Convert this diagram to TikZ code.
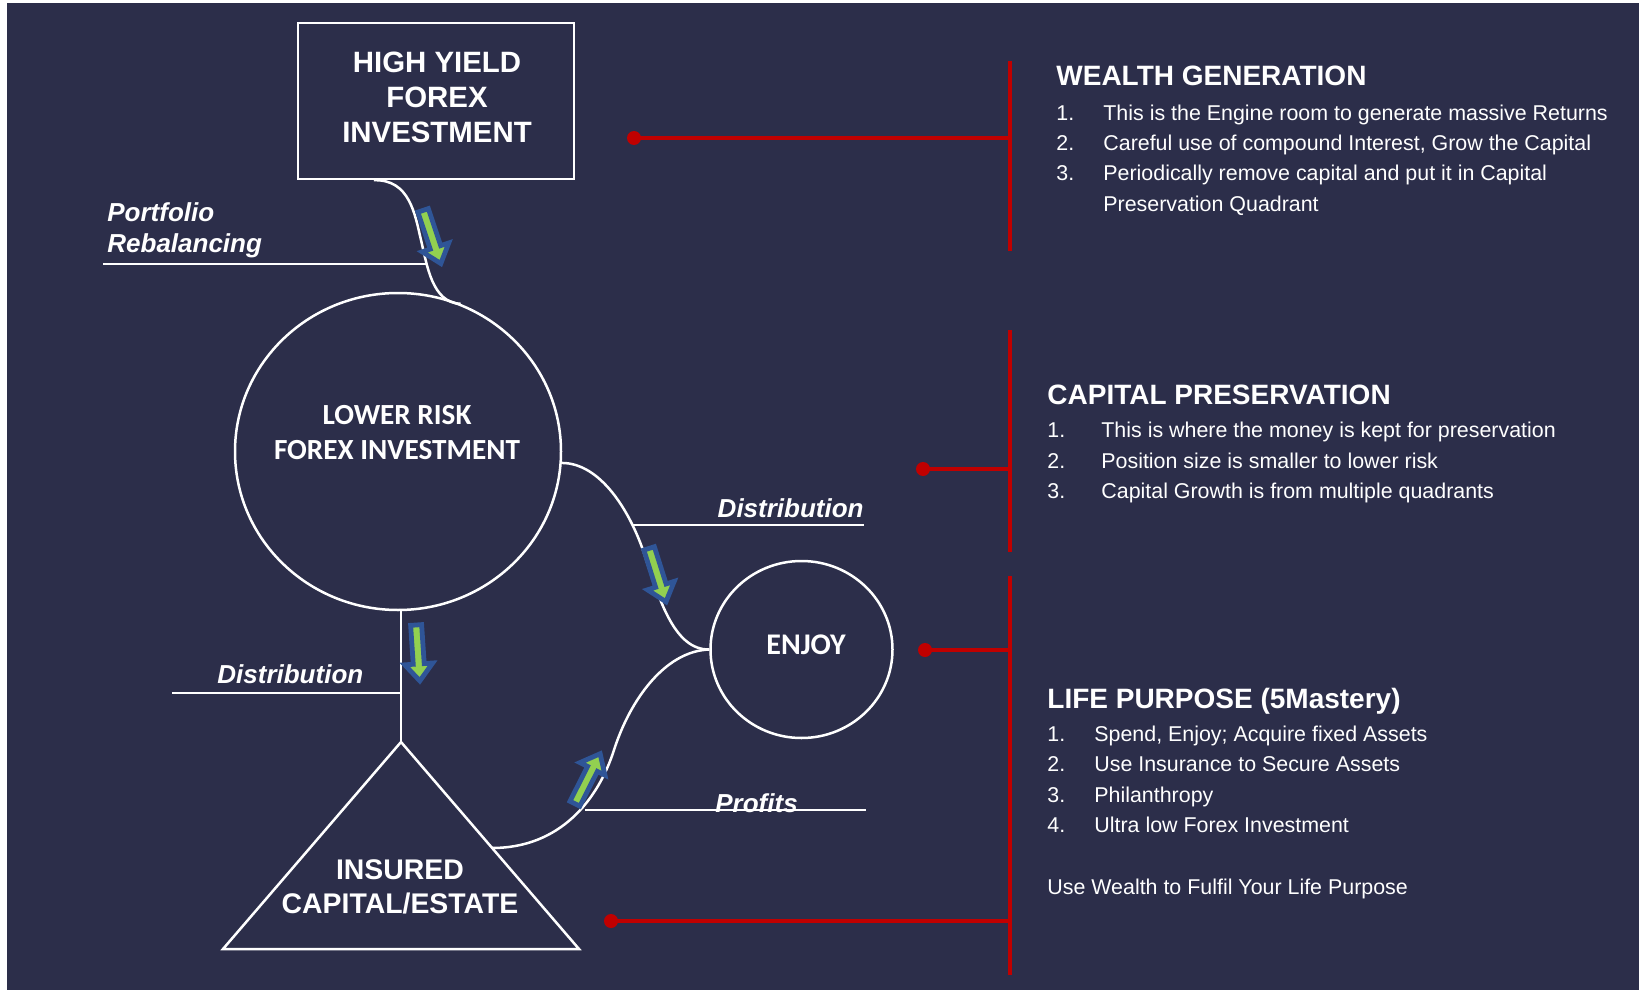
\documentclass[tikz,border=0pt]{standalone}
\usepackage{fontspec}
\setmainfont{Liberation Sans}
\newfontfamily\calfont{Carlito}
\usetikzlibrary{shapes.geometric,calc}
\definecolor{bgnavy}{RGB}{44,46,74}
\definecolor{redline}{RGB}{192,0,0}
\definecolor{arrblue}{RGB}{47,85,151}
\definecolor{arrgreen}{RGB}{146,208,80}
\begin{document}
\begin{tikzpicture}[x=0.5pt,y=-0.5pt,
  wline/.style={white,line width=1.25pt},
  rline/.style={redline,line width=1.75pt},
  headtxt/.style={white,font=\bfseries\fontsize{14}{17}\selectfont,anchor=base west,inner sep=0},
  itemtxt/.style={white,font=\fontsize{10.7}{12}\selectfont,anchor=base west,inner sep=0},
  labtxt/.style={white,font=\bfseries\itshape\fontsize{13}{15.5}\selectfont,inner sep=0},
  barrow/.pic={\draw[arrblue,fill=arrgreen,line width=2.4pt,line join=miter]
     (2,-5.5) -- (41,-5.5) -- (41,-14) -- (58,0) -- (41,14) -- (41,5.5) -- (2,5.5) -- cycle;}
]
% page and background
\fill[white] (0,0) rectangle (1639,990);
\fill[bgnavy] (7,3) rectangle (1639,990);
\useasboundingbox (0,0) rectangle (1639,990);

% ---------- main shapes ----------
\node[draw=white,line width=1.25pt,minimum width=138pt,minimum height=78pt,inner sep=0]
      (hy) at (436,101) {};
\node[text=white,align=center,inner sep=0,font=\bfseries\fontsize{14.7}{17.5}\selectfont]
      (hytext) at (437,97) {HIGH YIELD\\FOREX\\INVESTMENT};

\node[draw=white,line width=1.25pt,ellipse,minimum width=163pt,minimum height=158.5pt,inner sep=0]
      (lr) at (398,451.5) {};
\node[text=white,align=center,inner sep=0,font=\calfont\bfseries\fontsize{14.6}{17.5}\selectfont]
      (lrtext) at (397,433) {LOWER RISK\\FOREX INVESTMENT};

\node[draw=white,line width=1.25pt,ellipse,minimum width=91pt,minimum height=88.5pt,inner sep=0]
      (en) at (801.5,649.5) {};
\node[text=white,inner sep=0,font=\calfont\bfseries\fontsize{15}{17}\selectfont]
      (entext) at (806,645) {ENJOY};

\coordinate (tapex) at (401,742);
\coordinate (tbl) at (223,949);
\coordinate (tbr) at (579,949);
\draw[wline,line join=miter] (tapex) -- (tbl) -- (tbr) -- cycle;
\node[text=white,align=center,inner sep=0,font=\bfseries\fontsize{14.2}{16.8}\selectfont]
      (trtext) at (400,887) {INSURED\\CAPITAL/ESTATE};

% ---------- white connectors ----------
\coordinate (hyout) at ([xshift=38.5pt]hy.south west);
\draw[wline] (hyout) .. controls (410,179) and (415,215) .. (421,240)
                     .. controls (427,265) and (432,303) .. (lr.67);
\draw[wline] (lr.-4) .. controls (600,463) and (630,510) .. (645,556)
                     .. controls (660,602) and (675,650) .. (en.west);
\coordinate (trin) at ($(tapex)!0.512!(tbr)$);
\draw[wline] (en.west) .. controls (665,651) and (630,700) .. (614,750)
                       .. controls (598,800) and (560,848) .. (trin);
\draw[wline] (tapex |- lr.south) -- (tapex);

% label lines
\coordinate (pl) at (103,264);
\coordinate (pr) at (427,264);
\draw[wline] (pl) -- (pr);
\coordinate (dl) at (172,693);
\draw[wline] (dl) -- (dl -| tapex);
\coordinate (drl) at (633,525);
\coordinate (drr) at (864,525);
\draw[wline] (drl) -- (drr);
\coordinate (prl) at (585,810);
\coordinate (prr) at (866,810);
\draw[wline] (prl) -- (prr);

% labels
\node[labtxt,anchor=base west] (lport) at (107,221) {Portfolio};
\node[labtxt,anchor=base west] (lrebal) at (107,252) {Rebalancing};
\node[labtxt,anchor=base west] (ldist1) at (217,683) {Distribution};
\node[labtxt,anchor=base east] (ldist2) at (864,517) {Distribution};
\node[labtxt,anchor=base west] (lprof) at (715,812) {Profits};

% block arrows
\pic[rotate=-71.57] at (422.5,208.5) {barrow};
\pic[rotate=-72.45] at (648.5,546.5) {barrow};
\pic[rotate=-86.2] at (416,623) {barrow};
\pic[rotate=63.2] at (574,805.5) {barrow};

% ---------- red connectors ----------
\coordinate (v1t) at (1010,61);   \coordinate (v1b) at (1010,251);
\coordinate (v2t) at (1010,330);  \coordinate (v2b) at (1010,552);
\coordinate (v3t) at (1010,576);  \coordinate (v3b) at (1010,975);
\draw[rline] (v1t) -- (v1b);
\draw[rline] (v2t) -- (v2b);
\draw[rline] (v3t) -- (v3b);
\coordinate (d1) at (634,138);
\coordinate (d2) at (923,469);
\coordinate (d3) at (925,650);
\coordinate (d4) at (611,921);
\draw[rline] (d1) -- (d1 -| v1t);
\draw[rline] (d2) -- (d2 -| v2t);
\draw[rline] (d3) -- (d3 -| v3t);
\draw[rline] (d4) -- (d4 -| v3t);
\foreach \d in {d1,d2,d3,d4} \fill[redline] (\d) circle[radius=7];

% ---------- right texts ----------
\node[headtxt] (h1) at (1056,86) {WEALTH GENERATION};
\node[itemtxt] (n11) at (1056,120) {1.};
\node[itemtxt] (t11) at (1103,120) {This is the Engine room to generate massive Returns};
\node[itemtxt] (n12) at (1056,150.5) {2.};
\node[itemtxt] (t12) at (1103,150.5) {Careful use of compound Interest, Grow the Capital};
\node[itemtxt] (n13) at (1056,181) {3.};
\node[itemtxt] (t13) at (1103,181) {Periodically remove capital and put it in Capital};
\node[itemtxt] (t14) at (1103,211.5) {Preservation Quadrant};

\node[headtxt] (h2) at (1047,404) {CAPITAL PRESERVATION};
\node[itemtxt] (n21) at (1047,437.5) {1.};
\node[itemtxt] (t21) at (1101,437.5) {This is where the money is kept for preservation};
\node[itemtxt] (n22) at (1047,468) {2.};
\node[itemtxt] (t22) at (1101,468) {Position size is smaller to lower risk};
\node[itemtxt] (n23) at (1047,498.5) {3.};
\node[itemtxt] (t23) at (1101,498.5) {Capital Growth is from multiple quadrants};

\node[headtxt] (h3) at (1047,708) {LIFE PURPOSE (5Mastery)};
\node[itemtxt] (n31) at (1047,741) {1.};
\node[itemtxt] (t31) at (1094,741) {Spend, Enjoy; Acquire fixed Assets};
\node[itemtxt] (n32) at (1047,771.5) {2.};
\node[itemtxt] (t32) at (1094,771.5) {Use Insurance to Secure Assets};
\node[itemtxt] (n33) at (1047,802) {3.};
\node[itemtxt] (t33) at (1094,802) {Philanthropy};
\node[itemtxt] (n34) at (1047,832.5) {4.};
\node[itemtxt] (t34) at (1094,832.5) {Ultra low Forex Investment};
\node[itemtxt] (t35) at (1047,894) {Use Wealth to Fulfil Your Life Purpose};
\end{tikzpicture}
\end{document}
